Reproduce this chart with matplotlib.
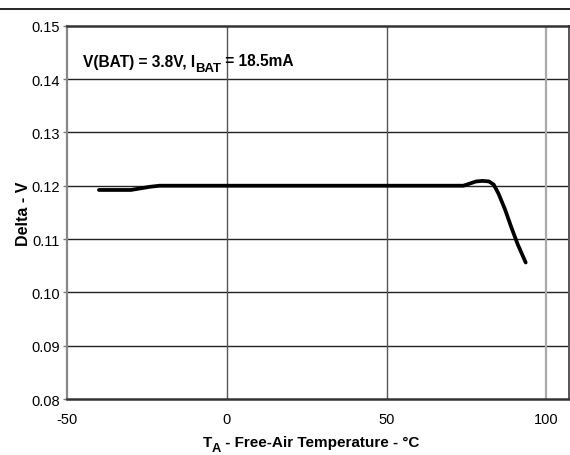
import matplotlib.pyplot as plt
from matplotlib.lines import Line2D
from matplotlib.transforms import offset_copy

plt.rcParams['font.family'] = ['Liberation Sans', 'DejaVu Sans']
plt.rcParams['axes.unicode_minus'] = False

# temperature (C) vs delta (V)
temp = [-40, -35, -30, -27, -24, -21, -15, 0, 25, 50, 74, 76, 78, 80, 82, 83.5, 85, 87, 89, 91, 93.5]
delta = [0.1192, 0.1192, 0.1192, 0.1195, 0.1198, 0.1200, 0.1200, 0.1200, 0.1200, 0.1200,
         0.1200, 0.1204, 0.1208, 0.1209, 0.1208, 0.1202, 0.1185, 0.1156, 0.1122, 0.1090, 0.1056]

xticks = [-50, 0, 50, 100]
yticks = [0.08, 0.09, 0.10, 0.11, 0.12, 0.13, 0.14, 0.15]

fig = plt.figure(figsize=(5.7, 4.56), dpi=100)
ax = fig.add_axes([0.1175, 0.1228, 0.8805, 0.8186])
renderer = fig.canvas.get_renderer()


# text with real subscripts, drawn piece by piece (x, y in figure pixels, baseline)
def sub_text(x, y, parts, size, ha='left'):
    widths = []
    for txt, sub in parts:
        fs = size * 0.84 if sub else size
        t = fig.text(0, 0, txt, fontsize=fs, fontweight='bold')
        widths.append(t.get_window_extent(renderer).width)
        t.remove()
    if ha == 'center':
        x = x - sum(widths) / 2.0
    dx = 0
    for (txt, sub), w in zip(parts, widths):
        fs = size * 0.84 if sub else size
        dy = -5.5 if sub else 0
        tr = offset_copy(fig.transFigure, fig, x=x + dx, y=fig.bbox.height - y + dy, units='dots')
        fig.text(0, 0, txt, transform=tr, fontsize=fs, fontweight='bold', va='baseline', ha='left')
        dx += w


# horizontal grid
for y in yticks[1:-1]:
    ax.axhline(y, color='#222222', lw=1.0, zorder=1)
# vertical grid
ax.axvline(0, color='#555555', lw=1.0, zorder=1)
ax.axvline(50, color='#555555', lw=1.0, zorder=1)
ax.axvline(100, color='#aaaaaa', lw=1.6, zorder=1)

ax.plot(temp, delta, color='black', lw=2.7, solid_capstyle='round', zorder=3)

ax.set_xlim(-50, 107)
ax.set_ylim(0.08, 0.15)
ax.set_xticks(xticks)
ax.set_yticks(yticks)
ax.set_yticklabels(['%.2f' % v for v in yticks])
ax.tick_params(axis='x', length=0, pad=9, labelsize=10.5)
ax.tick_params(axis='y', length=3, width=1, color='#777777', pad=2, labelsize=10.5)

ax.spines['left'].set_color('#888888')
ax.spines['left'].set_linewidth(1.6)
ax.spines['bottom'].set_color('#333333')
ax.spines['bottom'].set_linewidth(1.8)
ax.spines['top'].set_color('#333333')
ax.spines['top'].set_linewidth(1.8)
ax.spines['right'].set_color('#555555')
ax.spines['right'].set_linewidth(1.4)

ax.set_ylabel('Delta - V', fontsize=11.5, fontweight='bold', labelpad=0)

# annotation and x label
sub_text(83, 66.5, [('V(BAT) = 3.8V, I', False), ('BAT', True), (' = 18.5mA', False)], 11.2)
sub_text(311, 447, [('T', False), ('A', True), (' - Free-Air Temperature - °C', False)], 11, ha='center')

fig.add_artist(Line2D([0, 1], [0.978, 0.978], transform=fig.transFigure, color='black', lw=1.2))

fig.savefig('out.png', dpi=100)
